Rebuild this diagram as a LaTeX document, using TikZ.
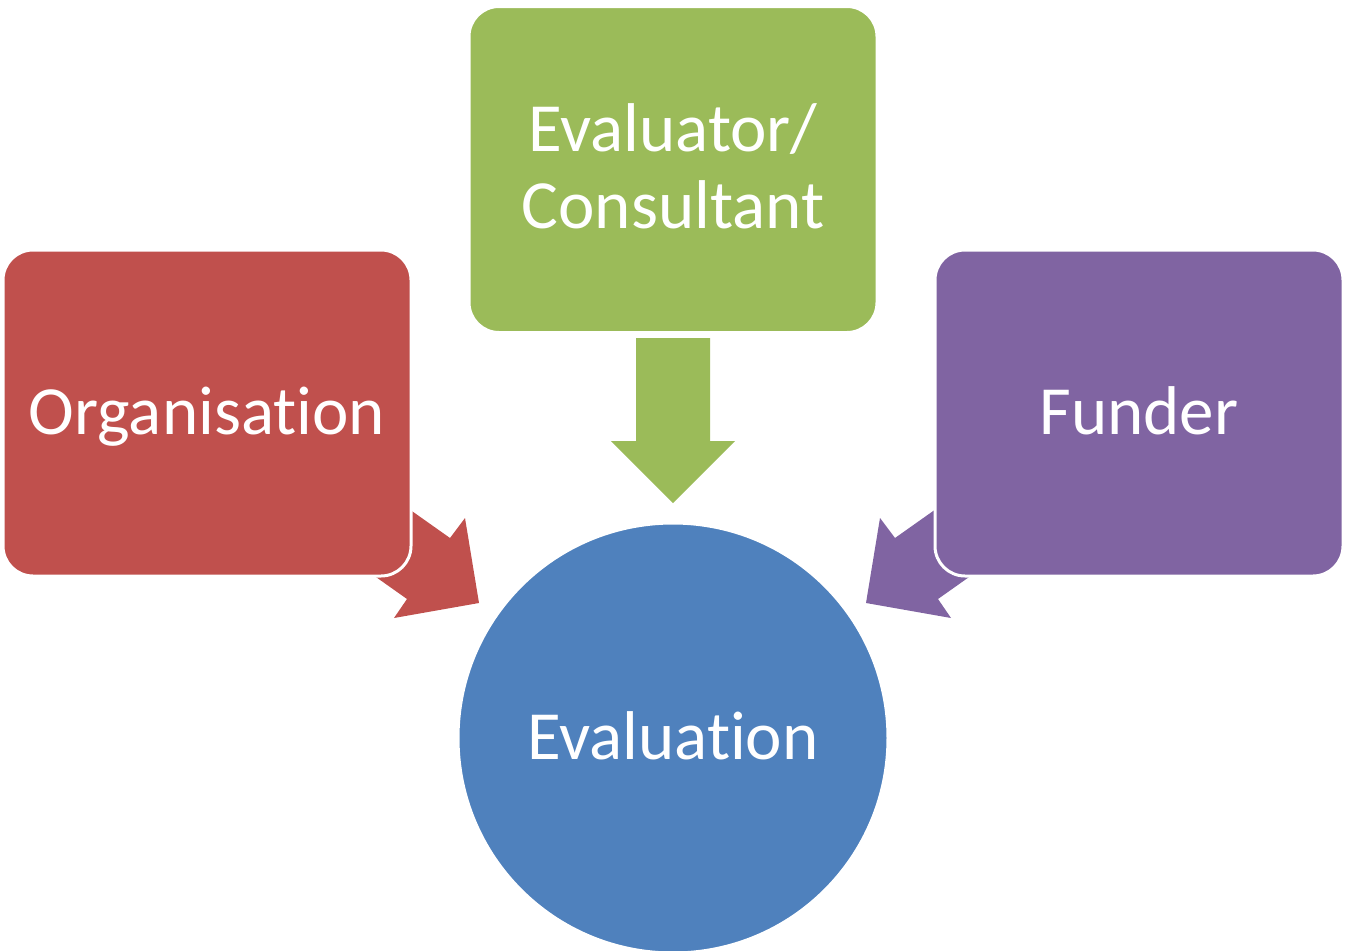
\documentclass[tikz,border=0pt]{standalone}
\usepackage{fontspec}
\setmainfont{Carlito}[Ligatures={NoCommon}]
\definecolor{cgreen}{HTML}{9BBB59}
\definecolor{cred}{HTML}{C0504D}
\definecolor{cpurple}{HTML}{8064A2}
\definecolor{cblue}{HTML}{4F81BD}
\begin{document}
\begin{tikzpicture}[x=1pt,y=-1pt,
  label font/.style={text=white, font=\fontsize{69}{77}\selectfont},
  one line/.style={text height=46pt, text depth=4pt},
  boxshape/.style={rectangle, rounded corners=30pt, draw=white, line width=3pt,
    minimum width=408pt, minimum height=326pt, inner sep=0pt,
    align=center, label font},
  roundnode/.style={circle, draw=white, line width=3pt, minimum size=430pt,
    inner sep=0pt, label font, one line}]
\useasboundingbox (0,0) rectangle (1345,951);
% block arrows
\fill[cgreen] (636,338) -- (710,338) -- (710,441) -- (735,441) -- (673,503) -- (611,441) -- (636,441) -- cycle;
\fill[cred] (368,480) -- (450,538) -- (465,518) -- (479,603) -- (394,618) -- (407,599) -- (325,541) -- cycle;
\fill[cpurple] (977,480) -- (895,538) -- (880,518) -- (866,603) -- (951,618) -- (938,599) -- (1020,541) -- cycle;
% boxes
\node[boxshape, fill=cgreen] (cons) at (673,169.5) {};
\node[label font, align=center, inner sep=0pt] (constext) at (673,166) {Evaluator/\\Consultant};
\node[boxshape, one line, fill=cred] (org) at (207,413) {Organisation};
\node[boxshape, one line, fill=cpurple] (fund) at (1139,413) {Funder};
\node[roundnode, fill=cblue] (eval) at (673,738) {Evaluation};
\end{tikzpicture}
\end{document}
